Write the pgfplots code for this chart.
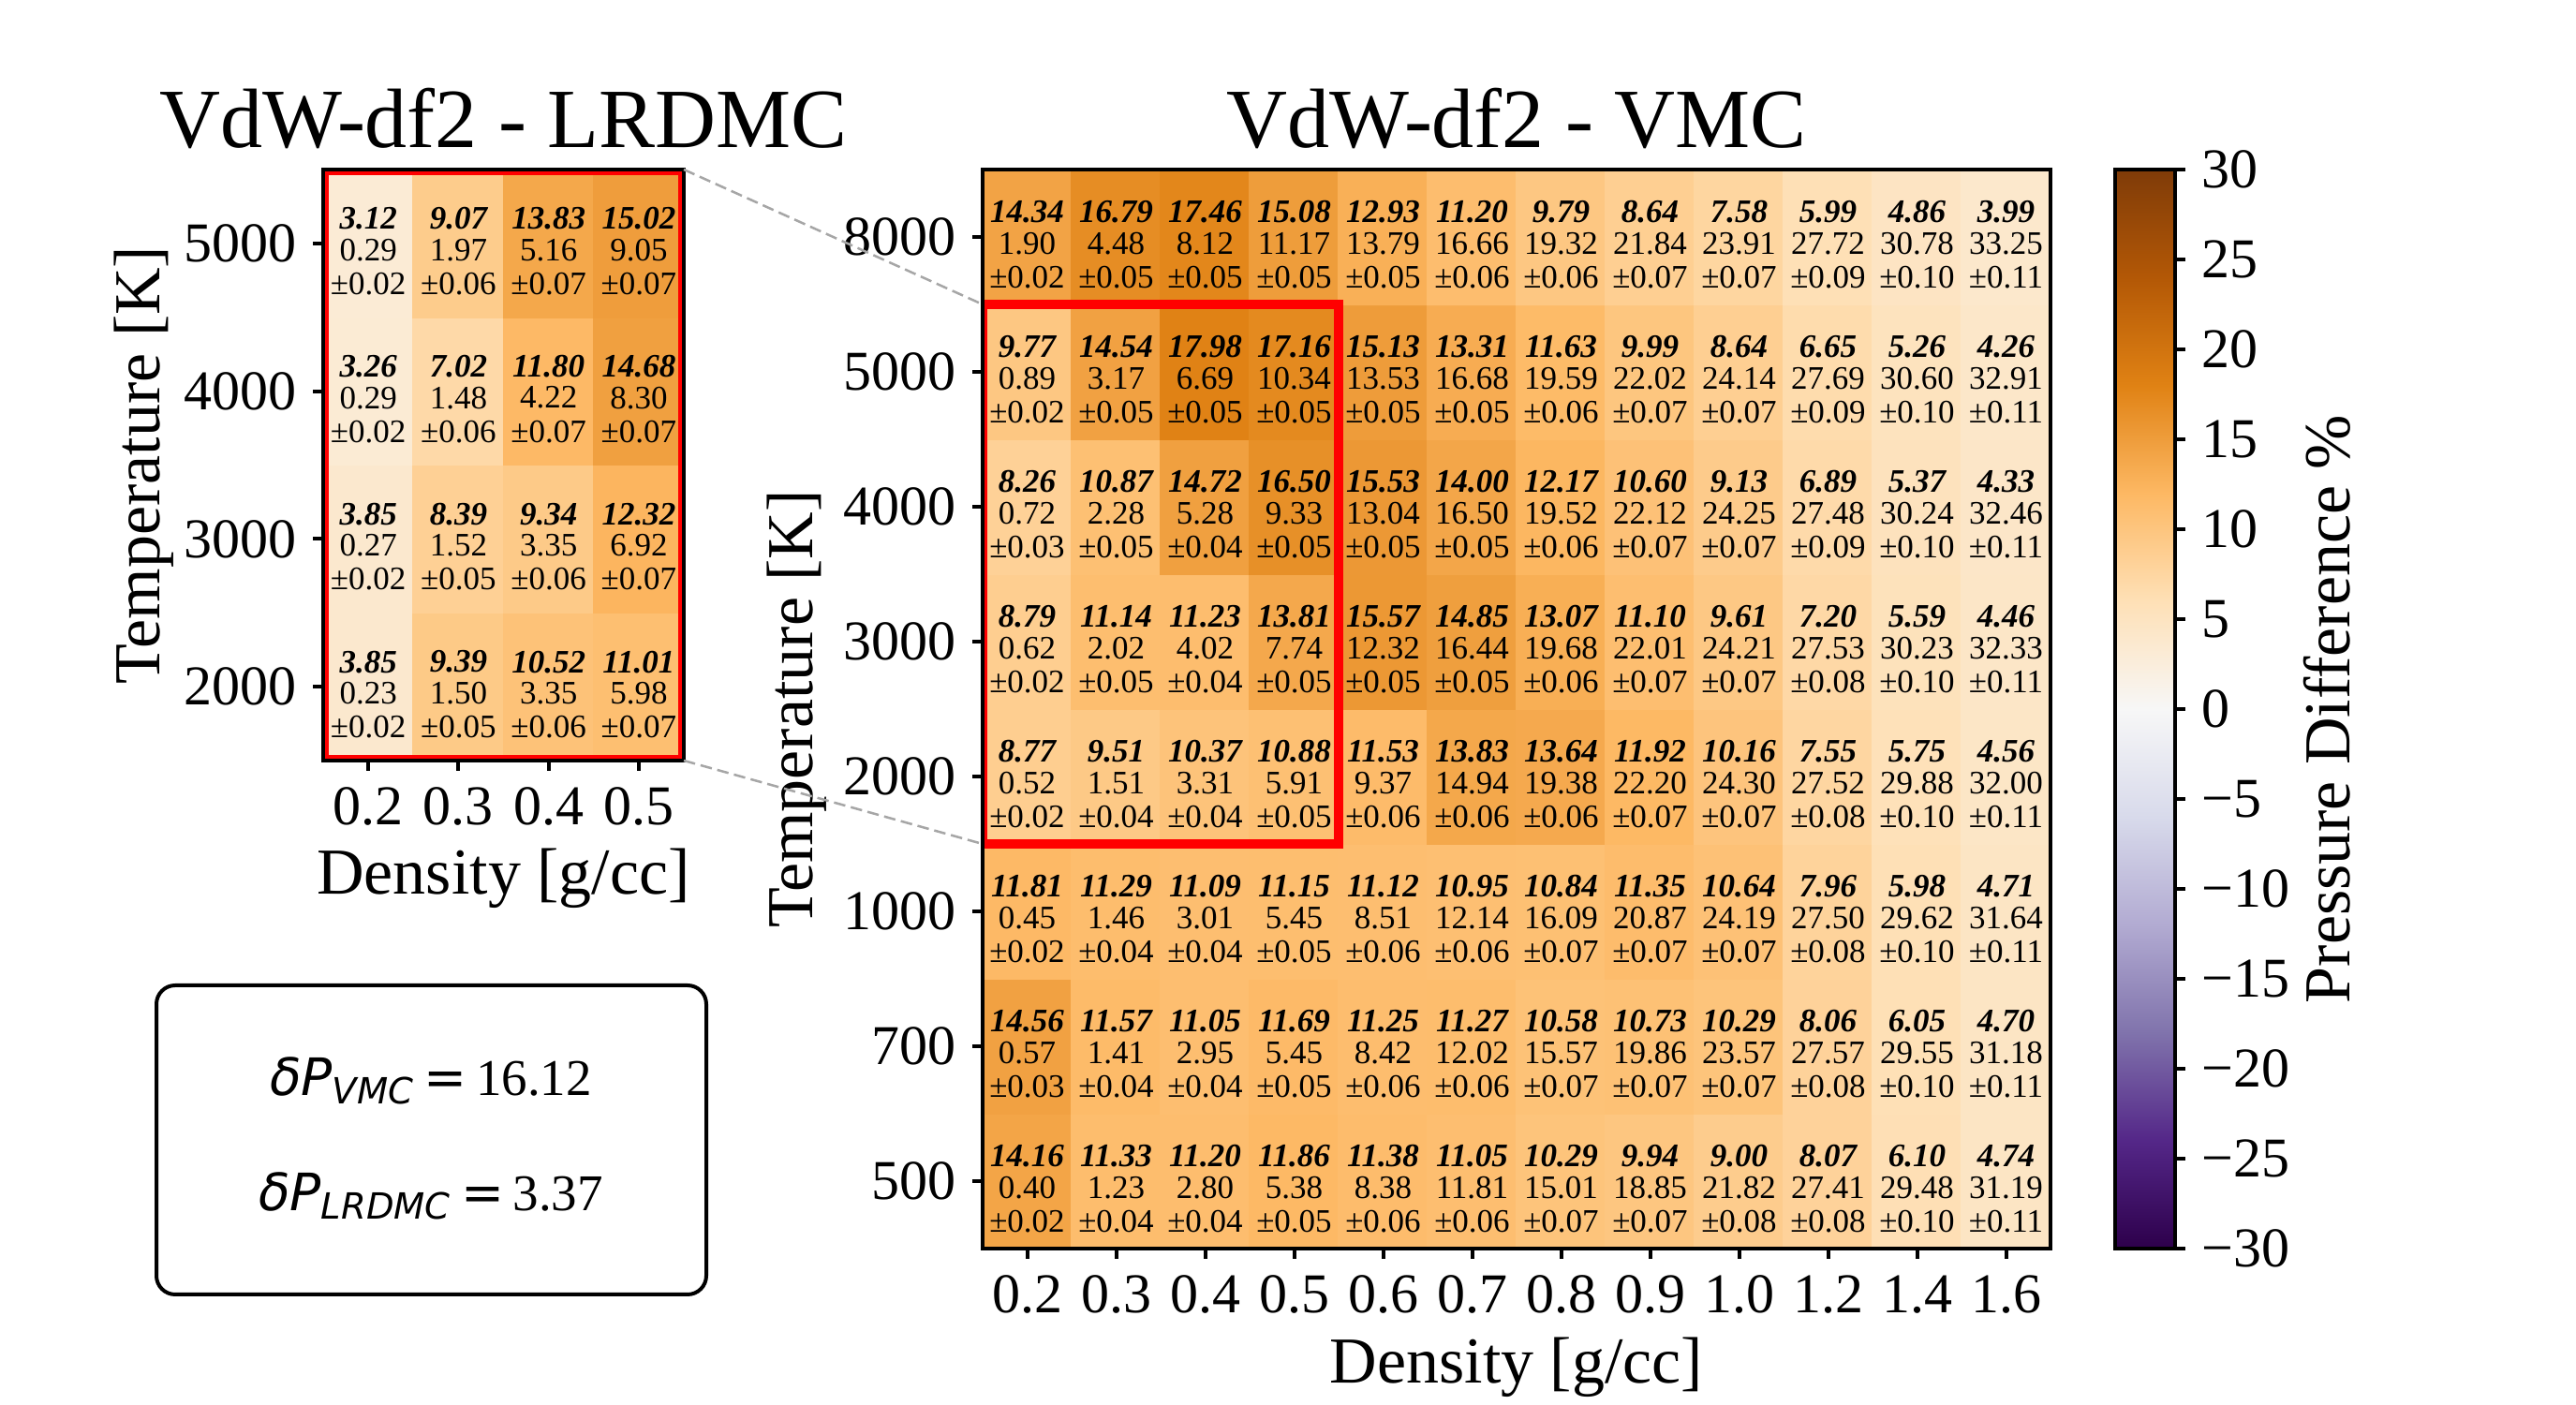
\documentclass[border=0pt]{standalone}
\usepackage{fontspec}
\setmainfont{Liberation Serif}
\newfontfamily\dejavu{DejaVu Sans}
\usepackage{pgfplots}
\usepackage{pgfplotstable}
\pgfplotsset{compat=1.18}

% x = density index, y = temperature index, c = coloured value, v = second value, e = error
\pgfplotstableread{
x y c v e
0 0 14.16 0.40 0.02
1 0 11.33 1.23 0.04
2 0 11.20 2.80 0.04
3 0 11.86 5.38 0.05
4 0 11.38 8.38 0.06
5 0 11.05 11.81 0.06
6 0 10.29 15.01 0.07
7 0 9.94 18.85 0.07
8 0 9.00 21.82 0.08
9 0 8.07 27.41 0.08
10 0 6.10 29.48 0.10
11 0 4.74 31.19 0.11
0 1 14.56 0.57 0.03
1 1 11.57 1.41 0.04
2 1 11.05 2.95 0.04
3 1 11.69 5.45 0.05
4 1 11.25 8.42 0.06
5 1 11.27 12.02 0.06
6 1 10.58 15.57 0.07
7 1 10.73 19.86 0.07
8 1 10.29 23.57 0.07
9 1 8.06 27.57 0.08
10 1 6.05 29.55 0.10
11 1 4.70 31.18 0.11
0 2 11.81 0.45 0.02
1 2 11.29 1.46 0.04
2 2 11.09 3.01 0.04
3 2 11.15 5.45 0.05
4 2 11.12 8.51 0.06
5 2 10.95 12.14 0.06
6 2 10.84 16.09 0.07
7 2 11.35 20.87 0.07
8 2 10.64 24.19 0.07
9 2 7.96 27.50 0.08
10 2 5.98 29.62 0.10
11 2 4.71 31.64 0.11
0 3 8.77 0.52 0.02
1 3 9.51 1.51 0.04
2 3 10.37 3.31 0.04
3 3 10.88 5.91 0.05
4 3 11.53 9.37 0.06
5 3 13.83 14.94 0.06
6 3 13.64 19.38 0.06
7 3 11.92 22.20 0.07
8 3 10.16 24.30 0.07
9 3 7.55 27.52 0.08
10 3 5.75 29.88 0.10
11 3 4.56 32.00 0.11
0 4 8.79 0.62 0.02
1 4 11.14 2.02 0.05
2 4 11.23 4.02 0.04
3 4 13.81 7.74 0.05
4 4 15.57 12.32 0.05
5 4 14.85 16.44 0.05
6 4 13.07 19.68 0.06
7 4 11.10 22.01 0.07
8 4 9.61 24.21 0.07
9 4 7.20 27.53 0.08
10 4 5.59 30.23 0.10
11 4 4.46 32.33 0.11
0 5 8.26 0.72 0.03
1 5 10.87 2.28 0.05
2 5 14.72 5.28 0.04
3 5 16.50 9.33 0.05
4 5 15.53 13.04 0.05
5 5 14.00 16.50 0.05
6 5 12.17 19.52 0.06
7 5 10.60 22.12 0.07
8 5 9.13 24.25 0.07
9 5 6.89 27.48 0.09
10 5 5.37 30.24 0.10
11 5 4.33 32.46 0.11
0 6 9.77 0.89 0.02
1 6 14.54 3.17 0.05
2 6 17.98 6.69 0.05
3 6 17.16 10.34 0.05
4 6 15.13 13.53 0.05
5 6 13.31 16.68 0.05
6 6 11.63 19.59 0.06
7 6 9.99 22.02 0.07
8 6 8.64 24.14 0.07
9 6 6.65 27.69 0.09
10 6 5.26 30.60 0.10
11 6 4.26 32.91 0.11
0 7 14.34 1.90 0.02
1 7 16.79 4.48 0.05
2 7 17.46 8.12 0.05
3 7 15.08 11.17 0.05
4 7 12.93 13.79 0.05
5 7 11.20 16.66 0.06
6 7 9.79 19.32 0.06
7 7 8.64 21.84 0.07
8 7 7.58 23.91 0.07
9 7 5.99 27.72 0.09
10 7 4.86 30.78 0.10
11 7 3.99 33.25 0.11
}\vmctab

\pgfplotstableread{
x y c v e
0 0 3.85 0.23 0.02
1 0 9.39 1.50 0.05
2 0 10.52 3.35 0.06
3 0 11.01 5.98 0.07
0 1 3.85 0.27 0.02
1 1 8.39 1.52 0.05
2 1 9.34 3.35 0.06
3 1 12.32 6.92 0.07
0 2 3.26 0.29 0.02
1 2 7.02 1.48 0.06
2 2 11.80 4.22 0.07
3 2 14.68 8.30 0.07
0 3 3.12 0.29 0.02
1 3 9.07 1.97 0.06
2 3 13.83 5.16 0.07
3 3 15.02 9.05 0.07
}\lrdmctab

\pgfplotsset{
  colormap={puor}{rgb255(0cm)=(45,0,75) rgb255(1cm)=(84,39,136) rgb255(2cm)=(128,115,172)
    rgb255(3cm)=(178,171,210) rgb255(4cm)=(216,218,235) rgb255(5cm)=(247,247,247)
    rgb255(6cm)=(254,224,182) rgb255(7cm)=(253,184,99) rgb255(8cm)=(224,130,20)
    rgb255(9cm)=(179,88,6) rgb255(10cm)=(127,59,8)},
}
\tikzset{
  celllbl/.style={anchor=center, inner sep=0pt, text=black,
    /pgf/number format/fixed, /pgf/number format/fixed zerofill,
    /pgf/number format/precision=2, /pgf/number format/assume math mode=true},
}

\begin{document}
\begin{tikzpicture}
\useasboundingbox (0,0) rectangle (550pt,300pt);

% LRDMC zoom panel
\begin{axis}[name=lr, at={(69pt,137.6pt)}, anchor=south west,
  scale only axis, width=77pt, height=126.2pt, enlargelimits=false, axis on top,
  tick align=outside, major tick length=2.2pt, tick pos=left,
  major tick style={black, line width=0.8pt}, axis line style={line width=0.8pt},
  colormap name=puor, point meta min=-30, point meta max=30,
  ticklabel style={font=\fontsize{12}{12}\selectfont},
  label style={font=\fontsize{14}{14}\selectfont},
  title style={font=\fontsize{18}{18}\selectfont, at={(0.5,1)}, anchor=base, yshift=-1.3pt},
  ylabel shift=-4.6pt, xlabel shift=-2pt,
  xmin=-0.5, xmax=3.5, ymin=-0.5, ymax=3.5,
  xtick={0,...,3}, xticklabels={0.2,0.3,0.4,0.5},
  ytick={0,...,3}, yticklabels={2000,3000,4000,5000},
  xlabel={Density [g/cc]}, ylabel={Temperature [K]},
  title={VdW-df2 - LRDMC}]
\addplot[matrix plot*, point meta=explicit, mesh/cols=4] table[x=x, y=y, meta=c] {\lrdmctab};
\addplot[draw=none, nodes near coords, point meta=explicit,
  every node near coord/.append style={celllbl, yshift=5.3pt, font=\fontsize{7}{7}\selectfont\bfseries\itshape}]
  table[x=x, y=y, meta=c] {\lrdmctab};
\addplot[draw=none, nodes near coords, point meta=explicit,
  every node near coord/.append style={celllbl, yshift=-1.4pt, font=\fontsize{7}{7}\selectfont}]
  table[x=x, y=y, meta=v] {\lrdmctab};
\addplot[draw=none, nodes near coords={±\pgfmathprintnumber{\pgfplotspointmeta}}, point meta=explicit,
  every node near coord/.append style={celllbl, yshift=-8.6pt, font=\fontsize{7}{7}\selectfont}]
  table[x=x, y=y, meta=e] {\lrdmctab};
\draw[red, line width=2.4pt] (rel axis cs:0,0) rectangle (rel axis cs:1,1);
\coordinate (LTR) at (rel axis cs:1,1);
\coordinate (LBR) at (rel axis cs:1,0);
\end{axis}

% VMC full grid
\begin{axis}[name=vmc, at={(209.8pt,33.4pt)}, anchor=south west,
  scale only axis, width=228pt, height=230.4pt, enlargelimits=false, axis on top,
  tick align=outside, major tick length=2.2pt, tick pos=left,
  major tick style={black, line width=0.8pt}, axis line style={line width=0.8pt},
  colormap name=puor, point meta min=-30, point meta max=30,
  ticklabel style={font=\fontsize{12}{12}\selectfont},
  label style={font=\fontsize{14}{14}\selectfont},
  title style={font=\fontsize{18}{18}\selectfont, at={(0.5,1)}, anchor=base, yshift=-1.3pt},
  ylabel shift=-3.2pt, xlabel shift=-1.8pt,
  xmin=-0.5, xmax=11.5, ymin=-0.5, ymax=7.5,
  xtick={0,...,11}, xticklabels={0.2,0.3,0.4,0.5,0.6,0.7,0.8,0.9,1.0,1.2,1.4,1.6},
  ytick={0,...,7}, yticklabels={500,700,1000,2000,3000,4000,5000,8000},
  xlabel={Density [g/cc]}, ylabel={Temperature [K]},
  title={VdW-df2 - VMC},
  colorbar,
  colorbar style={at={(parent axis.north east)}, anchor=north west, xshift=5.2pt,
    width=12.8pt, tick align=outside, major tick length=2.2pt,
    major tick style={black, line width=0.8pt}, axis line style={line width=0.8pt},
    ytick={-30,-25,...,30},
    yticklabels={−30,−25,−20,−15,−10,−5,0,5,10,15,20,25,30},
    ytick pos=right, yticklabel pos=right,
    yticklabel style={font=\fontsize{12}{12}\selectfont},
    ylabel={Pressure Difference \%}, ylabel shift=-3.9pt,
    ylabel style={font=\fontsize{14}{14}\selectfont}}]
\addplot[matrix plot*, point meta=explicit, mesh/cols=12] table[x=x, y=y, meta=c] {\vmctab};
\addplot[draw=none, nodes near coords, point meta=explicit,
  every node near coord/.append style={celllbl, yshift=5.3pt, font=\fontsize{7}{7}\selectfont\bfseries\itshape}]
  table[x=x, y=y, meta=c] {\vmctab};
\addplot[draw=none, nodes near coords, point meta=explicit,
  every node near coord/.append style={celllbl, yshift=-1.4pt, font=\fontsize{7}{7}\selectfont}]
  table[x=x, y=y, meta=v] {\vmctab};
\addplot[draw=none, nodes near coords={±\pgfmathprintnumber{\pgfplotspointmeta}}, point meta=explicit,
  every node near coord/.append style={celllbl, yshift=-8.6pt, font=\fontsize{7}{7}\selectfont}]
  table[x=x, y=y, meta=e] {\vmctab};
\draw[red, line width=2pt] (axis cs:-0.5,2.5) rectangle (axis cs:3.5,6.5);
\coordinate (MTL) at (axis cs:-0.5,6.5);
\coordinate (MBL) at (axis cs:-0.5,2.5);
\end{axis}

\draw[gray!70, line width=0.5pt, dash pattern=on 2.5pt off 1.2pt] (LTR) -- (MTL);
\draw[gray!70, line width=0.5pt, dash pattern=on 2.5pt off 1.2pt] (LBR) -- (MBL);

% summary box
\draw[line width=0.8pt, rounded corners=4pt] (33.4pt,23.6pt) rectangle (150.8pt,89.6pt);
\node[font=\fontsize{11}{11}\selectfont] at (92pt,69.2pt)
  {{\dejavu\itshape δP\textsubscript{VMC}}\,{\dejavu =}\,16.12};
\node[font=\fontsize{11}{11}\selectfont] at (92pt,44.6pt)
  {{\dejavu\itshape δP\textsubscript{LRDMC}}\,{\dejavu =}\,3.37};
\end{tikzpicture}
\end{document}
